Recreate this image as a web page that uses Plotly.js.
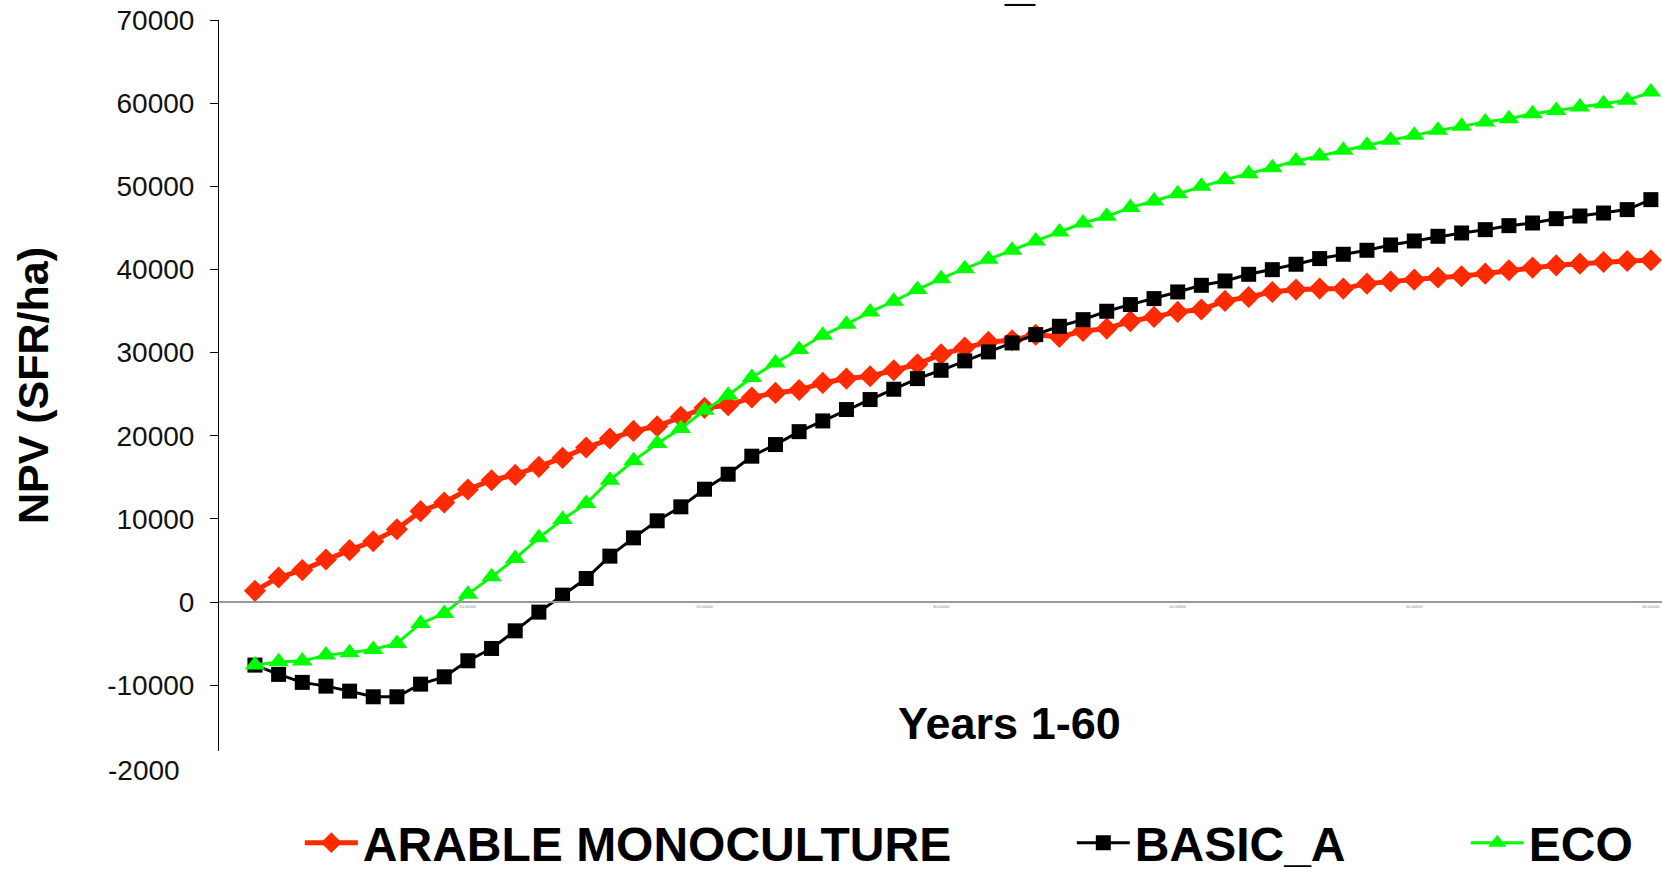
<!DOCTYPE html>
<html>
<head>
<meta charset="utf-8">
<script src="https://cdn.plot.ly/plotly-3.0.1.min.js"></script>
<style>
  html, body { margin: 0; padding: 0; background: #fff; overflow: hidden; }
  #chart { width: 1662px; height: 869px; }
</style>
</head>
<body>
<div id="chart"></div>
<script>
// Years of the simulation period
const years = [1, 2, 3, 4, 5, 6, 7, 8, 9, 10, 11, 12, 13, 14, 15, 16, 17, 18, 19, 20,
  21, 22, 23, 24, 25, 26, 27, 28, 29, 30, 31, 32, 33, 34, 35, 36, 37, 38, 39, 40,
  41, 42, 43, 44, 45, 46, 47, 48, 49, 50, 51, 52, 53, 54, 55, 56, 57, 58, 59, 60];

// Cumulative NPV (SFR/ha) per land-use system
const arableMonoculture = [1360, 2970, 3850, 5130, 6250, 7330, 8770, 10940, 11980, 13540,
  14660, 15300, 16270, 17350, 18590, 19670, 20590, 21150, 22280, 23360,
  23680, 24600, 25160, 25500, 26360, 26880, 27160, 27880, 28600, 29810,
  30610, 31290, 31500, 32150, 31900, 32610, 32890, 33770, 34300, 34900,
  35180, 36220, 36700, 37300, 37580, 37700, 37700, 38300, 38560, 38780,
  39030, 39180, 39500, 39900, 40230, 40500, 40700, 40900, 41020, 41110];

const basicA = [-7570, -8690, -9650, -10100, -10700, -11380, -11380, -9860, -8980, -7050,
  -5570, -3450, -1200, 840, 2840, 5530, 7730, 9780, 11460, 13580,
  15380, 17550, 18950, 20500, 21790, 23160, 24360, 25600, 26880, 27880,
  29010, 30090, 31170, 32170, 33170, 33970, 34980, 35780, 36500, 37300,
  38100, 38620, 39420, 39980, 40630, 41310, 41830, 42310, 42950, 43430,
  43990, 44390, 44790, 45270, 45590, 46110, 46430, 46790, 47200, 48400];

const eco = [-7570, -7170, -7090, -6370, -6090, -5690, -4970, -2560, -1360, 960,
  3040, 5250, 7730, 9940, 11860, 14660, 16990, 19070, 20870, 23080,
  24880, 27000, 28770, 30370, 32090, 33410, 34900, 36180, 37580, 38900,
  40100, 41230, 42310, 43430, 44510, 45590, 46390, 47440, 48240, 49120,
  50000, 50800, 51520, 52240, 53040, 53650, 54330, 54930, 55530, 56130,
  56730, 57210, 57730, 58130, 58730, 59130, 59540, 59930, 60340, 61340];

const seriesNames = ['ARABLE MONOCULTURE', 'BASIC_A', 'ECO'];

// Axis ticks
const yTickVals = [-10000, 0, 10000, 20000, 30000, 40000, 50000, 60000, 70000];
const yTickText = ['-10000', '0', '10000', '20000', '30000', '40000', '50000', '60000', '70000'];
const yBottomLabel = '-2000';
const xTickVals = [10, 20, 30, 40, 50, 60];
const xTickText = ['10.00000', '20.00000', '30.00000', '40.00000', '50.00000', '60.00000'];

const FONT = 'Liberation Sans, Arial, Helvetica, sans-serif';
const Y_MIN = -17900, Y_MAX = 70000;

const traces = [
  {
    x: years, y: arableMonoculture, name: seriesNames[0], legend: 'legend',
    type: 'scatter', mode: 'lines+markers',
    line: { color: '#ff2a00', width: 5 },
    marker: { symbol: 'diamond', size: 17, color: '#ff2a00' }
  },
  {
    x: years, y: basicA, name: seriesNames[1], legend: 'legend2',
    type: 'scatter', mode: 'lines+markers',
    line: { color: '#000000', width: 3 },
    marker: { symbol: 'square', size: 15, color: '#000000' }
  },
  {
    x: years, y: eco, name: seriesNames[2], legend: 'legend3',
    type: 'scatter', mode: 'lines+markers',
    line: { color: '#00ff00', width: 3 },
    marker: { symbol: 'triangle-up', size: 18, color: '#00ff00' }
  }
];

const legendFont = { family: FONT, size: 48, color: '#000', weight: 'bold' };
function legendAt(x) {
  return {
    x: x, y: 0.03, xanchor: 'left', yanchor: 'middle', yref: 'container',
    orientation: 'h', bgcolor: 'rgba(0,0,0,0)', borderwidth: 0,
    font: legendFont, itemwidth: 53
  };
}

const layout = {
  width: 1662, height: 869,
  paper_bgcolor: '#ffffff', plot_bgcolor: '#ffffff',
  margin: { l: 219, r: 0, t: 20, b: 118 },
  showlegend: true,
  legend: legendAt(0.056),
  legend2: legendAt(0.591),
  legend3: legendAt(0.864),
  xaxis: {
    range: [-0.52, 60.47],
    anchor: 'free',
    position: (0 - Y_MIN) / (Y_MAX - Y_MIN),
    showgrid: false, zeroline: false,
    showline: true, linecolor: '#999999', linewidth: 2,
    ticks: '', tickmode: 'array', tickvals: xTickVals, ticktext: xTickText,
    tickfont: { family: FONT, size: 4, color: '#888888' }
  },
  yaxis: {
    range: [Y_MIN, Y_MAX],
    showgrid: false, zeroline: false,
    showline: true, linecolor: '#000000', linewidth: 1,
    ticks: 'outside', ticklen: 8, tickwidth: 1, tickcolor: '#000000',
    tickmode: 'array', tickvals: yTickVals, ticktext: yTickText,
    tickfont: { family: FONT, size: 28, color: '#111111' },
    ticklabelstandoff: 10,
    title: {
      text: 'NPV (SFR/ha)', standoff: 45,
      font: { family: FONT, size: 43, color: '#000', weight: 'bold' }
    }
  },
  annotations: [
    {
      text: 'Years 1-60', xref: 'paper', yref: 'paper',
      x: 0.5475, y: 0.038, xanchor: 'center', yanchor: 'middle', showarrow: false,
      font: { family: FONT, size: 45, color: '#000', weight: 'bold' }
    },
    {
      text: yBottomLabel, xref: 'paper', yref: 'paper',
      x: 0, y: 0, xanchor: 'right', yanchor: 'middle', xshift: -37, yshift: -19,
      showarrow: false,
      font: { family: FONT, size: 28, color: '#111111' }
    },
    {
      text: '_', xref: 'paper', yref: 'paper',
      x: 0.5548, y: 1, xanchor: 'center', yanchor: 'bottom', yshift: 8,
      showarrow: false,
      font: { family: FONT, size: 54, color: '#000', weight: 'bold' }
    }
  ]
};

Plotly.newPlot('chart', traces, layout, { staticPlot: true, displayModeBar: false });
</script>
</body>
</html>
